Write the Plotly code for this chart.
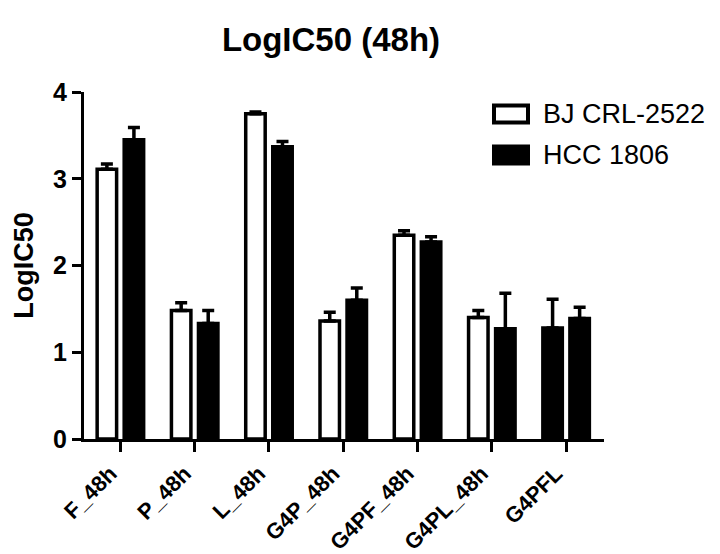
import plotly.graph_objects as go

categories = ["F_48h", "P_48h", "L_48h", "G4P_48h", "G4PF_48h", "G4PL_48h", "G4PFL"]
bj_values = [3.11, 1.48, 3.75, 1.36, 2.35, 1.40, 1.28]
bj_errors = [0.06, 0.09, 0.02, 0.10, 0.05, 0.08, 0.33]
hcc_values = [3.45, 1.33, 3.37, 1.60, 2.27, 1.27, 1.39]
hcc_errors = [0.14, 0.15, 0.06, 0.14, 0.06, 0.41, 0.13]
bj_fill = ["white", "white", "white", "white", "white", "white", "black"]
series_names = ["BJ CRL-2522", "HCC 1806"]

FONT = "Arial, Liberation Sans, sans-serif"

# plot area in pixels
L, R, T, B = 76, 596, 84, 431
W, H = 720, 554

def px(x):
    return (x - L) / (R - L)

def py(y):
    return (B - y) / (B - T)

fig = go.Figure()
fig.add_trace(go.Bar(
    x=categories, y=bj_values, name=series_names[0],
    marker=dict(color=bj_fill, line=dict(color="black", width=3.5)),
    error_y=dict(type="data", array=bj_errors, arrayminus=[0] * len(bj_errors),
                 symmetric=False, color="black", thickness=3.5, width=6),
    showlegend=False,
))
fig.add_trace(go.Bar(
    x=categories, y=hcc_values, name=series_names[1],
    marker=dict(color="black", line=dict(color="black", width=3.5)),
    error_y=dict(type="data", array=hcc_errors, arrayminus=[0] * len(hcc_errors),
                 symmetric=False, color="black", thickness=3.5, width=6),
    showlegend=False,
))

# legend drawn as shapes + text
legend_fill = ["white", "black"]
legend_rows = [106, 147]
for name, fill, yc in zip(series_names, legend_fill, legend_rows):
    fig.add_shape(type="rect", xref="paper", yref="paper",
                  x0=px(486), x1=px(520), y0=py(yc - 8.5), y1=py(yc + 8.5),
                  fillcolor=fill, line=dict(color="black", width=4))
    fig.add_annotation(text=name, xref="paper", yref="paper",
                       x=px(533), y=py(yc), xanchor="left", yanchor="middle",
                       showarrow=False,
                       font=dict(family=FONT, size=27, color="black"))

fig.update_layout(
    width=W, height=H,
    margin=dict(l=L, r=W - R, t=T, b=H - B, pad=0, autoexpand=False),
    paper_bgcolor="white", plot_bgcolor="white",
    barmode="group", bargap=0.272, bargroupgap=0.28,
    title=dict(text="<b>LogIC50 (48h)</b>", x=px(323), xref="paper",
               xanchor="center", y=1 - 31 / H, yanchor="middle",
               font=dict(family=FONT, size=33, color="black")),
    font=dict(family=FONT, color="black"),
)
fig.update_xaxes(
    range=[-0.49, 6.51], showline=True, linecolor="black", linewidth=3,
    ticks="outside", ticklen=10, tickwidth=3, tickcolor="black",
    tickangle=-45, showgrid=False, zeroline=False,
    ticklabelstandoff=0, ticklabelshift=-10,
    automargin=False,
    tickfont=dict(family=FONT, size=22, color="black", weight="bold"),
)
fig.update_yaxes(
    range=[0, 4], tickvals=[0, 1, 2, 3, 4], showline=True, linecolor="black",
    linewidth=3, ticks="outside", ticklen=9, tickwidth=3, tickcolor="black",
    showgrid=False, zeroline=False, automargin=False,
    tickfont=dict(family=FONT, size=25, color="black", weight="bold"),
    title=dict(text="<b>LogIC50</b>", standoff=12,
               font=dict(family=FONT, size=27, color="black")),
)

fig.write_html("out.html")
